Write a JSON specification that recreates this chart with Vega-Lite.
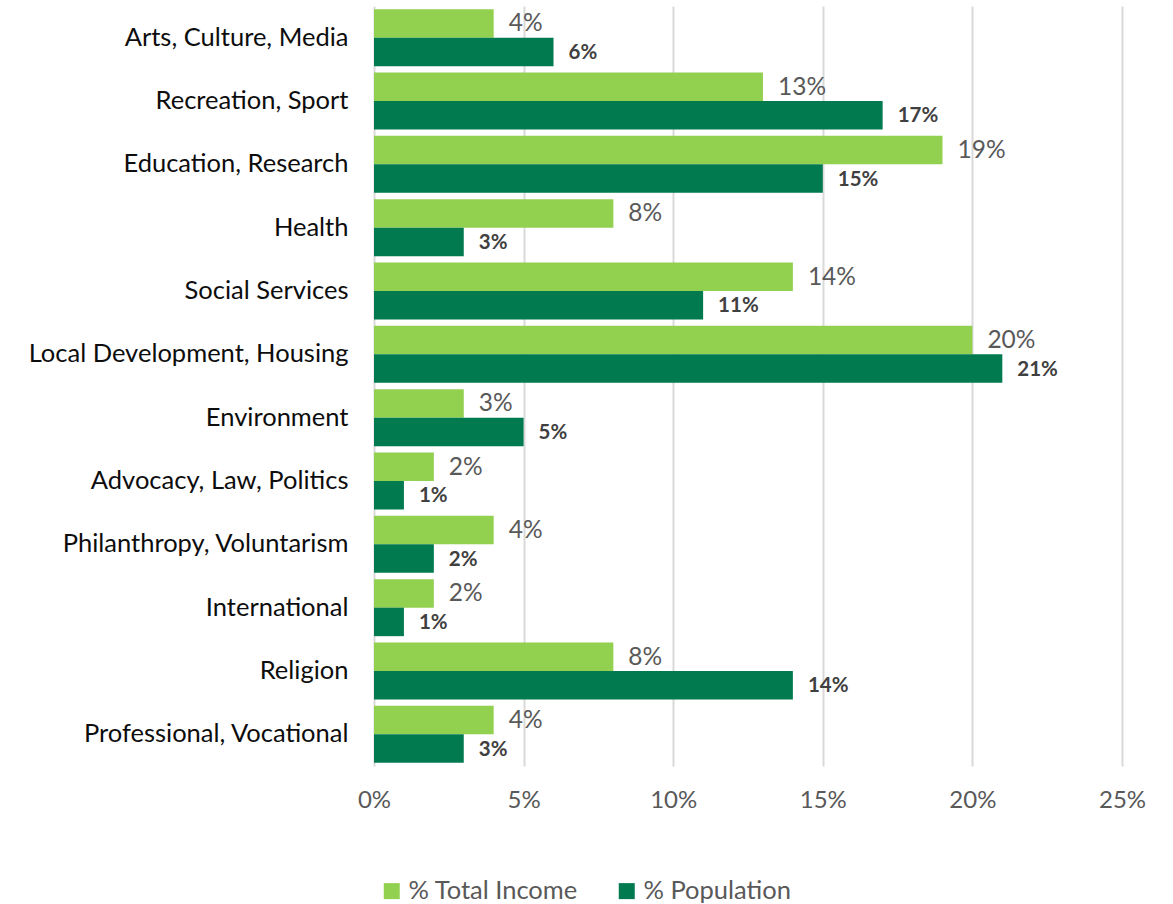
{
  "$schema": "https://vega.github.io/schema/vega-lite/v6.json",
  "width": 748,
  "height": 760,
  "autosize": {"type": "none"},
  "padding": {"left": 374, "top": 6, "right": 51, "bottom": 138},
  "background": "white",
  "config": {"view": {"stroke": null}, "font": "Lato"},
  "data": {
    "values": [
      {"category": "Arts, Culture, Media", "series": "% Total Income", "value": 0.04},
      {"category": "Arts, Culture, Media", "series": "% Population", "value": 0.06},
      {"category": "Recreation, Sport", "series": "% Total Income", "value": 0.13},
      {"category": "Recreation, Sport", "series": "% Population", "value": 0.17},
      {"category": "Education, Research", "series": "% Total Income", "value": 0.19},
      {"category": "Education, Research", "series": "% Population", "value": 0.15},
      {"category": "Health", "series": "% Total Income", "value": 0.08},
      {"category": "Health", "series": "% Population", "value": 0.03},
      {"category": "Social Services", "series": "% Total Income", "value": 0.14},
      {"category": "Social Services", "series": "% Population", "value": 0.11},
      {"category": "Local Development, Housing", "series": "% Total Income", "value": 0.20},
      {"category": "Local Development, Housing", "series": "% Population", "value": 0.21},
      {"category": "Environment", "series": "% Total Income", "value": 0.03},
      {"category": "Environment", "series": "% Population", "value": 0.05},
      {"category": "Advocacy, Law, Politics", "series": "% Total Income", "value": 0.02},
      {"category": "Advocacy, Law, Politics", "series": "% Population", "value": 0.01},
      {"category": "Philanthropy, Voluntarism", "series": "% Total Income", "value": 0.04},
      {"category": "Philanthropy, Voluntarism", "series": "% Population", "value": 0.02},
      {"category": "International", "series": "% Total Income", "value": 0.02},
      {"category": "International", "series": "% Population", "value": 0.01},
      {"category": "Religion", "series": "% Total Income", "value": 0.08},
      {"category": "Religion", "series": "% Population", "value": 0.14},
      {"category": "Professional, Vocational", "series": "% Total Income", "value": 0.04},
      {"category": "Professional, Vocational", "series": "% Population", "value": 0.03}
    ]
  },
  "encoding": {
    "y": {
      "field": "category",
      "type": "nominal",
      "sort": ["Arts, Culture, Media", "Recreation, Sport", "Education, Research", "Health", "Social Services", "Local Development, Housing", "Environment", "Advocacy, Law, Politics", "Philanthropy, Voluntarism", "International", "Religion", "Professional, Vocational"],
      "scale": {"paddingInner": 0.1, "paddingOuter": 0.05},
      "axis": {"title": null, "ticks": false, "domain": false, "labelFontSize": 25.5, "labelColor": "#0d0d0d", "labelPadding": 26, "labelLimit": 400, "labelFont": "Lato"}
    },
    "x": {
      "field": "value",
      "type": "quantitative",
      "scale": {"domain": [0, 0.25]},
      "axis": {"title": null, "format": ".0%", "values": [0, 0.05, 0.1, 0.15, 0.2, 0.25], "grid": true, "gridColor": "#d9d9d9", "gridWidth": 2, "domain": false, "ticks": false, "labelFlush": false, "labelFontSize": 24, "labelColor": "#595959", "labelPadding": 22, "labelFont": "Lato"}
    },
    "yOffset": {"field": "series", "type": "nominal", "sort": ["% Total Income", "% Population"]}
  },
  "layer": [
    {
      "mark": {"type": "bar"},
      "encoding": {
        "color": {
          "field": "series",
          "type": "nominal",
          "scale": {"domain": ["% Total Income", "% Population"], "range": ["#92D050", "#007A4E"]},
          "legend": {"orient": "none", "legendX": 5, "legendY": 872, "direction": "horizontal", "title": null, "symbolType": "square", "symbolSize": 256, "symbolStrokeWidth": 0, "labelFontSize": 25.5, "labelColor": "#595959", "labelFont": "Lato", "labelLimit": 400, "columnPadding": 35, "labelOffset": 4}
        }
      }
    },
    {
      "transform": [{"filter": "datum.series === '% Total Income'"}],
      "mark": {"type": "text", "align": "left", "baseline": "middle", "dx": 15, "dy": 1, "fontSize": 24.5, "color": "#595959", "font": "Lato"},
      "encoding": {"text": {"field": "value", "type": "quantitative", "format": ".0%"}}
    },
    {
      "transform": [{"filter": "datum.series === '% Population'"}],
      "mark": {"type": "text", "align": "left", "baseline": "middle", "dx": 15, "dy": 1, "fontSize": 20.5, "fontWeight": "bold", "color": "#404040", "font": "Lato"},
      "encoding": {"text": {"field": "value", "type": "quantitative", "format": ".0%"}}
    }
  ]
}
